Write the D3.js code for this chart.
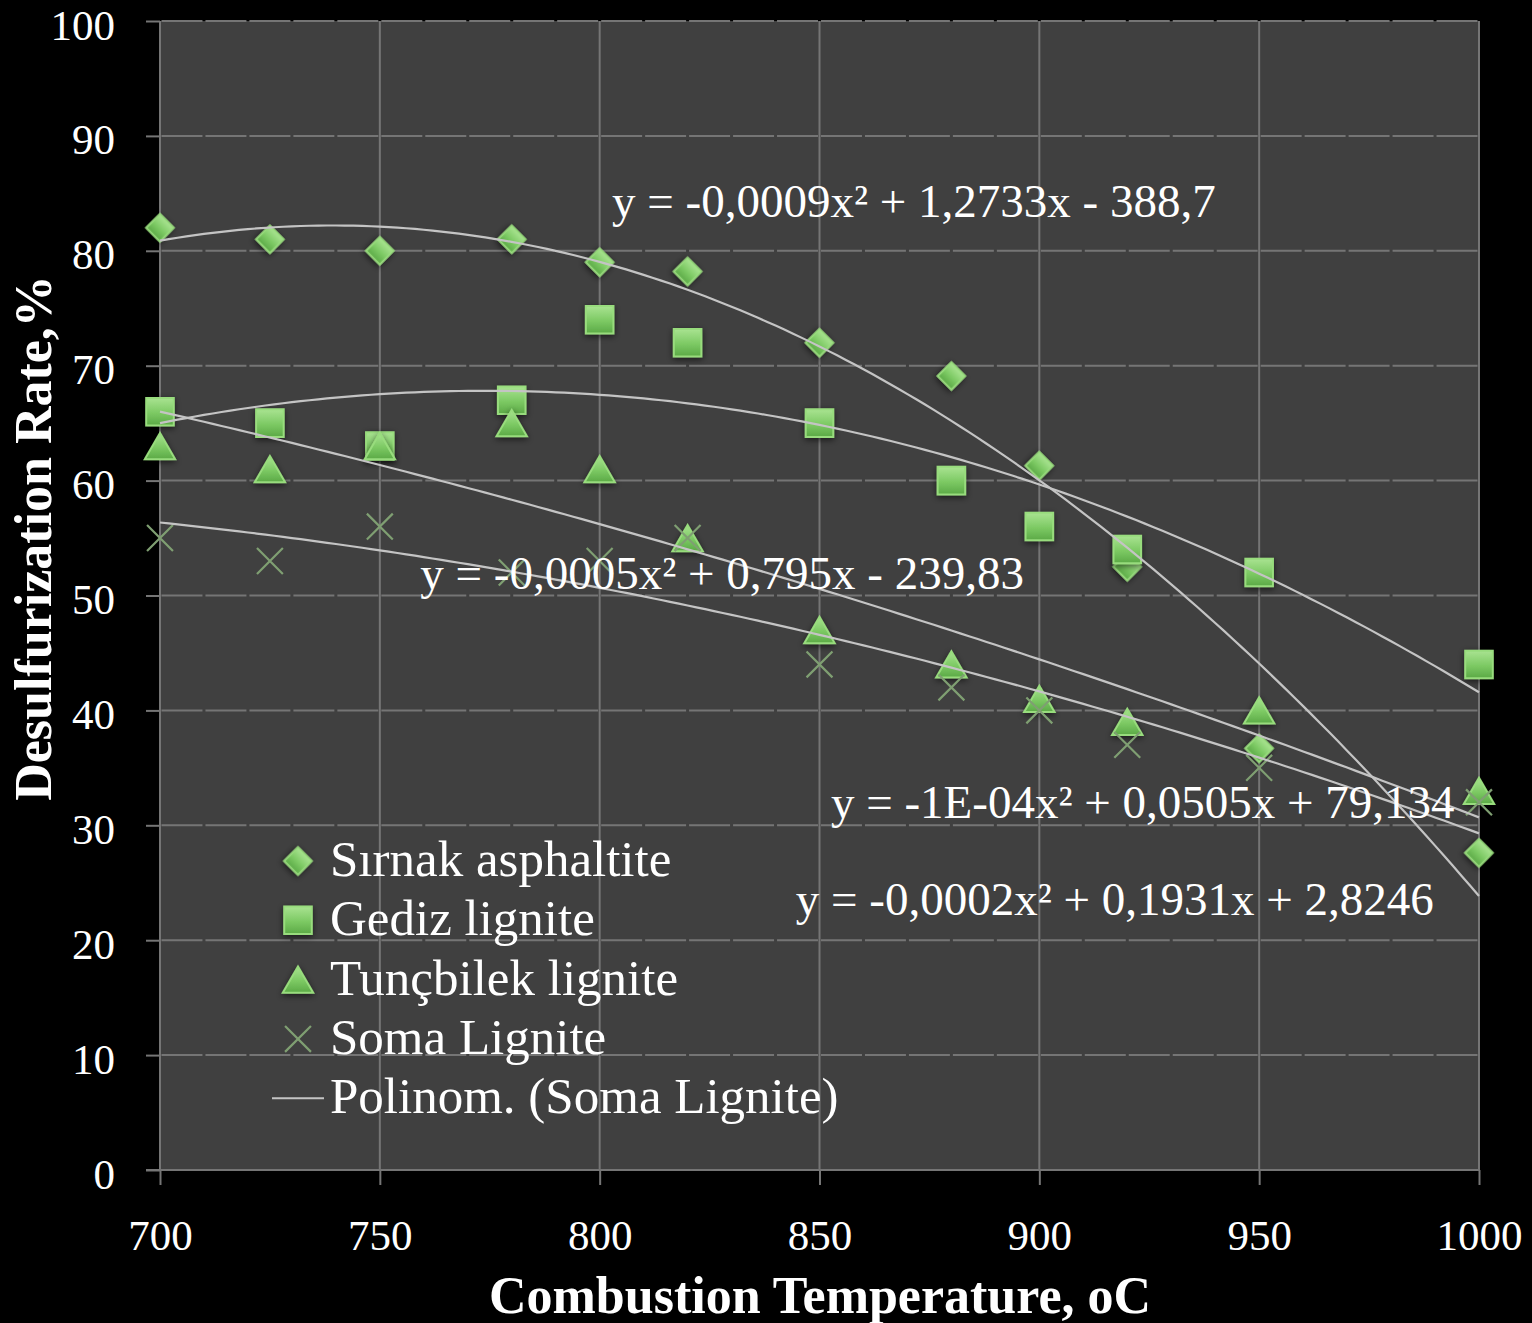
<!DOCTYPE html>
<html>
<head>
<meta charset="utf-8">
<script src="https://cdn.jsdelivr.net/npm/d3@7"></script>
<style>
  html, body { margin: 0; padding: 0; background: #000; }
  svg { display: block; }
  text { font-family: "Liberation Serif", "DejaVu Serif", serif; fill: #fff; }
</style>
</head>
<body>
<svg id="chart"></svg>
<script>
// temperatures (oC)
const temps = [700, 725, 750, 780, 800, 820, 850, 880, 900, 920, 950, 1000];
// desulfurization rate, %
const sirnak = [82, 81, 80, 81, 79, 78.2, 72, 69.1, 61.3, 52.5, 36.7, 27.6];
const gediz = [66, 65, 63, 67, 74, 72, 65, 60, 56, 54, 52, 44];
const tuncbilek = [63, 61, 63, 65, 61, 55, 47, 44, 41, 39, 40, 33];
const soma = [55, 53, 56, 52, 53, 55, 44, 42, 40, 37, 35, 32];

const seriesNames = ["Sırnak asphaltite", "Gediz lignite", "Tunçbilek lignite", "Soma Lignite"];
const trendLegend = "Polinom. (Soma Lignite)";
const equations = [
  "y = -0,0009x² + 1,2733x - 388,7",
  "y = -0,0005x² + 0,795x - 239,83",
  "y = -1E-04x² + 0,0505x + 79,134",
  "y = -0,0002x² + 0,1931x + 2,8246"
];
const xTicks = [700, 750, 800, 850, 900, 950, 1000];
const yTicks = [0, 10, 20, 30, 40, 50, 60, 70, 80, 90, 100];

const W = 1532, H = 1323;
const plot = { left: 160, right: 1479, top: 21, bottom: 1170 };

const svg = d3.select("#chart").attr("width", W).attr("height", H);
svg.append("rect").attr("width", W).attr("height", H).attr("fill", "#000");

const x = d3.scaleLinear().domain([700, 1000]).range([plot.left, plot.right]);
const y = d3.scaleLinear().domain([0, 100]).range([plot.bottom, plot.top]);

// defs: marker gradient + shadow
const defs = svg.append("defs");
const grad = defs.append("linearGradient").attr("id", "mk")
  .attr("x1", 0).attr("y1", 0).attr("x2", 0).attr("y2", 1);
grad.append("stop").attr("offset", "0%").attr("stop-color", "#a9e391");
grad.append("stop").attr("offset", "55%").attr("stop-color", "#7cc963");
grad.append("stop").attr("offset", "100%").attr("stop-color", "#5ba946");
const sh = defs.append("filter").attr("id", "sh").attr("x", "-50%").attr("y", "-50%")
  .attr("width", "200%").attr("height", "200%");
sh.append("feDropShadow").attr("dx", 0).attr("dy", 2).attr("stdDeviation", 3)
  .attr("flood-color", "#000").attr("flood-opacity", 0.6);

// plot area
svg.append("rect")
  .attr("x", plot.left).attr("y", plot.top)
  .attr("width", plot.right - plot.left).attr("height", plot.bottom - plot.top)
  .attr("fill", "#404040");

const gridColor = "#757575";
const period = (x(1000) - x(700)) / 30;

// horizontal gridlines (with small gaps at each 10 oC)
svg.append("g").selectAll("line").data(yTicks.filter(d => d > 0)).join("line")
  .attr("x1", plot.left).attr("x2", plot.right)
  .attr("y1", d => y(d)).attr("y2", d => y(d))
  .attr("stroke", gridColor).attr("stroke-width", 2)
  .attr("stroke-dasharray", `${period - 3},3`)
  .attr("stroke-dashoffset", -1.5);

// vertical gridlines
svg.append("g").selectAll("line").data(xTicks).join("line")
  .attr("x1", d => x(d)).attr("x2", d => x(d))
  .attr("y1", plot.top).attr("y2", plot.bottom)
  .attr("stroke", gridColor).attr("stroke-width", 2);

// axes
const xAxis = svg.append("g").attr("transform", `translate(0,${plot.bottom})`)
  .call(d3.axisBottom(x).tickValues(xTicks).tickSize(15).tickPadding(34).tickFormat(d3.format("d")));
const yAxis = svg.append("g").attr("transform", `translate(${plot.left},0)`)
  .call(d3.axisLeft(y).tickValues(yTicks).tickSize(14).tickPadding(31).tickFormat(d3.format("d")));
[xAxis, yAxis].forEach(a => {
  a.select(".domain").remove();
  a.selectAll("line").attr("stroke", gridColor).attr("stroke-width", 2);
  a.selectAll("text").attr("font-size", 43).attr("fill", "#fff")
    .style("font-family", '"Liberation Serif", serif');
});
yAxis.selectAll("text").attr("dy", "0.42em");
svg.append("line").attr("x1", plot.left - 14).attr("x2", plot.right)
  .attr("y1", plot.bottom).attr("y2", plot.bottom)
  .attr("stroke", gridColor).attr("stroke-width", 2);

// axis titles
svg.append("text").attr("x", 820).attr("y", 1313).attr("text-anchor", "middle")
  .attr("font-size", 52).attr("font-weight", "bold").text("Combustion Temperature, oC");
svg.append("text").attr("transform", "translate(51,538) rotate(-90)")
  .attr("text-anchor", "middle").attr("font-size", 52).attr("font-weight", "bold")
  .text("Desulfurization Rate,%");

// quadratic least-squares trendline
function quadFit(xs, ys) {
  const u = xs.map(v => (v - 850) / 100);
  const S = [0, 0, 0, 0, 0], T = [0, 0, 0];
  u.forEach((ui, i) => {
    for (let k = 0; k < 5; k++) S[k] += Math.pow(ui, k);
    for (let k = 0; k < 3; k++) T[k] += ys[i] * Math.pow(ui, k);
  });
  const M = [[S[0], S[1], S[2], T[0]], [S[1], S[2], S[3], T[1]], [S[2], S[3], S[4], T[2]]];
  for (let c = 0; c < 3; c++) {
    for (let r = c + 1; r < 3; r++) {
      const f = M[r][c] / M[c][c];
      for (let k = c; k < 4; k++) M[r][k] -= f * M[c][k];
    }
  }
  const b = [0, 0, 0];
  for (let r = 2; r >= 0; r--) {
    let s = M[r][3];
    for (let k = r + 1; k < 3; k++) s -= M[r][k] * b[k];
    b[r] = s / M[r][r];
  }
  return t => { const v = (t - 850) / 100; return b[0] + b[1] * v + b[2] * v * v; };
}

const allSeries = [sirnak, gediz, tuncbilek, soma];

// markers
const triSize = 400;
const triShift = Math.sqrt(triSize / (Math.sqrt(3) * 3)) / 2;
const symbols = [
  d3.symbol().type(d3.symbolSquare).size(380),
  d3.symbol().type(d3.symbolSquare).size(760),
  d3.symbol().type(d3.symbolTriangle).size(triSize),
  d3.symbol().type(d3.symbolX).size(440)
];
function drawMarker(g, i, cx, cy) {
  const p = g.append("path").attr("d", symbols[i]());
  if (i === 3) {
    p.attr("transform", `translate(${cx},${cy})`)
      .attr("fill", "none").attr("stroke", "#7f9f72").attr("stroke-width", 2.2);
  } else {
    const dy = i === 2 ? triShift : 0;
    p.attr("transform", `translate(${cx},${cy + dy})` + (i === 0 ? " rotate(45)" : ""))
      .attr("fill", "url(#mk)").attr("stroke", "#98dc7d").attr("stroke-width", 2)
      .attr("filter", "url(#sh)");
  }
}
const markG = svg.append("g");
allSeries.forEach((vals, i) => {
  vals.forEach((v, j) => drawMarker(markG, i, x(temps[j]), y(v)));
});

// trendlines on top of markers
const line = d3.line().x(d => x(d[0])).y(d => y(d[1]));
const gridT = d3.range(700, 1000.01, 2);
const trendG = svg.append("g");
allSeries.forEach(vals => {
  const f = quadFit(temps, vals);
  trendG.append("path").datum(gridT.map(t => [t, f(t)]))
    .attr("d", line).attr("fill", "none")
    .attr("stroke", "#c4c4c4").attr("stroke-width", 2.2);
});

// equations
const eqPos = [[802.8, 82.9], [759.2, 50.6], [852.6, 30.6], [844.6, 22.2]];
svg.append("g").selectAll("text").data(equations).join("text")
  .attr("x", (d, i) => x(eqPos[i][0])).attr("y", (d, i) => y(eqPos[i][1]))
  .attr("font-size", 47).text(d => d);

// legend
const leg = svg.append("g");
seriesNames.forEach((name, i) => {
  const cy = 861 + i * 59.3;
  drawMarker(leg, i, 298, cy);
  leg.append("text").attr("x", 330).attr("y", cy + 15).attr("font-size", 51).text(name);
});
const ly = 861 + 4 * 59.3;
leg.append("line").attr("x1", 272).attr("x2", 324).attr("y1", ly).attr("y2", ly)
  .attr("stroke", "#c4c4c4").attr("stroke-width", 2);
leg.append("text").attr("x", 330).attr("y", ly + 15).attr("font-size", 51).text(trendLegend);
</script>
</body>
</html>
